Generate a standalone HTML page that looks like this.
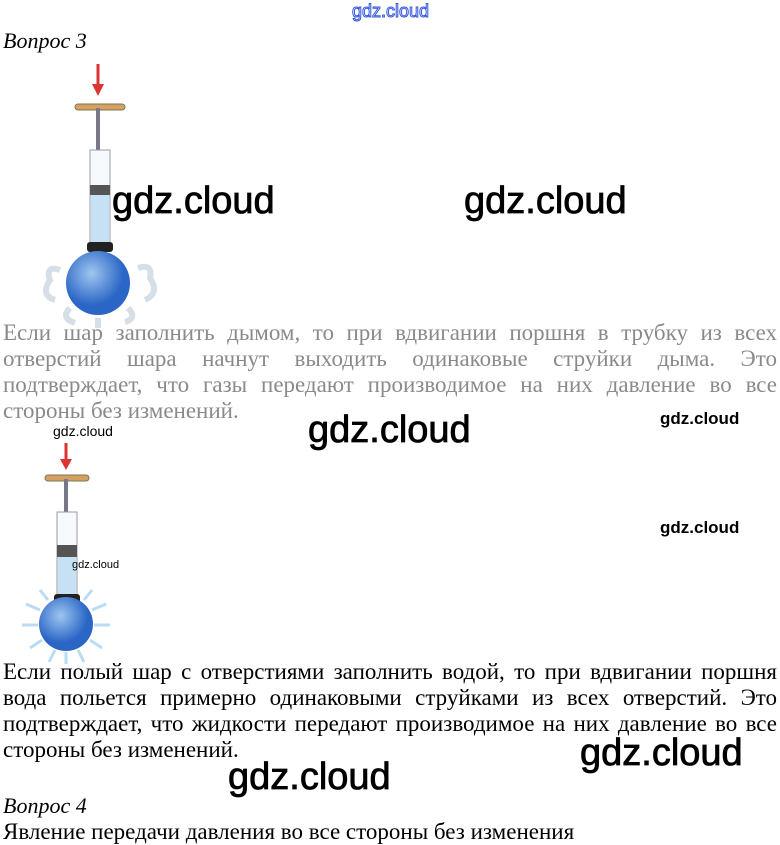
<!DOCTYPE html>
<html><head><meta charset="utf-8"><style>
body{margin:0;width:780px;height:845px;background:#fff;position:relative;overflow:hidden;font-family:"Liberation Serif",serif}
.a{position:absolute;white-space:nowrap}
.p{position:absolute;left:3px;width:774px;font-size:23px;line-height:26px;text-align:justify;text-align-last:justify}
.w{position:absolute;font-family:"Liberation Sans",sans-serif;color:#000;white-space:nowrap;-webkit-text-stroke:0.8px #000}
</style></head><body>
<div class="a" style="left:352px;top:1px;font-family:'Liberation Sans',sans-serif;font-size:18px;color:#fff;-webkit-text-stroke:1px #3355dd">gdz.cloud</div>
<div class="a" style="left:3px;top:28px;font-size:22px;font-style:italic">Вопрос 3</div>
<svg class="a" style="left:0;top:0" width="780" height="845">
<defs><radialGradient id="b" cx="40%" cy="35%"><stop offset="0" stop-color="#9ec6f0"/><stop offset="1" stop-color="#2b66c6"/></radialGradient></defs>
<g fill="none" stroke="#ccd6e0" stroke-width="6" opacity=".8">
<path d="M60 270 q-15 -5 -10 10 q-10 15 5 20 M138 268 q15 -5 12 10 q10 15 -5 22 M70 308 q-10 10 5 15 M128 308 q10 10 -3 14 M98 318 v10"/>
</g>
<path d="M98 64 v22" stroke="#d33" stroke-width="3"/><path d="M92 84 l6 12 l6 -12z" fill="#d33"/>
<rect x="75" y="104" width="50" height="6" rx="3" fill="#d7a060" stroke="#775" stroke-width="1"/>
<rect x="96" y="108" width="4" height="80" fill="#778"/>
<rect x="90" y="150" width="20" height="95" fill="#f6fafc" stroke="#99a" stroke-width="1"/>
<rect x="91" y="195" width="18" height="50" fill="#c6e0f4"/>
<rect x="90" y="185" width="20" height="10" fill="#555"/>
<rect x="87" y="242" width="26" height="10" rx="3" fill="#222"/>
<circle cx="98" cy="283" r="32" fill="url(#b)"/>
<g stroke="#a8d4f4" stroke-width="3" opacity=".8">
<path d="M40 610 l-14 -6 M38 625 h-16 M42 640 l-12 8 M55 650 l-6 12 M66 652 v12 M78 650 l6 12 M90 640 l12 8 M94 625 h16 M92 610 l14 -6 M48 600 l-8 -10 M84 600 l8 -10"/>
</g>
<path d="M66 443 v18" stroke="#d33" stroke-width="3"/><path d="M60 459 l6 11 l6 -11z" fill="#d33"/>
<rect x="45" y="475" width="44" height="6" rx="3" fill="#d7a060" stroke="#775" stroke-width="1"/>
<rect x="64" y="479" width="4" height="70" fill="#778"/>
<rect x="57" y="512" width="20" height="85" fill="#f6fafc" stroke="#99a" stroke-width="1"/>
<rect x="58" y="557" width="18" height="40" fill="#c6e0f4"/>
<rect x="57" y="545" width="20" height="12" fill="#555"/>
<rect x="54" y="594" width="26" height="10" rx="3" fill="#222"/>
<circle cx="66" cy="624" r="27" fill="url(#b)"/>
</svg>
<div class="w" style="left:112px;top:180px;font-size:38px">gdz.cloud</div>
<div class="w" style="left:464px;top:180px;font-size:38px">gdz.cloud</div>
<div class="p" style="top:320px;color:#8a8a8a">Если шар заполнить дымом, то при вдвигании поршня в трубку из всех</div>
<div class="p" style="top:346px;color:#8a8a8a">отверстий шара начнут выходить одинаковые струйки дыма. Это</div>
<div class="p" style="top:372px;color:#8a8a8a">подтверждает, что газы передают производимое на них давление во все</div>
<div class="a" style="left:3px;top:398px;font-size:23px;line-height:26px;color:#8a8a8a">стороны без изменений.</div>
<div class="w" style="left:308px;top:409px;font-size:38px">gdz.cloud</div>
<div class="w" style="left:660px;top:409px;font-size:17px;font-weight:bold;-webkit-text-stroke:0">gdz.cloud</div>
<div class="w" style="left:53px;top:423px;font-size:14px;-webkit-text-stroke:0">gdz.cloud</div>
<div class="w" style="left:660px;top:518px;font-size:17px;font-weight:bold;-webkit-text-stroke:0">gdz.cloud</div>
<div class="w" style="left:72px;top:559px;font-size:11px;-webkit-text-stroke:0">gdz.cloud</div>
<div class="p" style="top:659px">Если полый шар с отверстиями заполнить водой, то при вдвигании поршня</div>
<div class="p" style="top:685px">вода польется примерно одинаковыми струйками из всех отверстий. Это</div>
<div class="p" style="top:711px">подтверждает, что жидкости передают производимое на них давление во все</div>
<div class="a" style="left:3px;top:737px;font-size:23px;line-height:26px">стороны без изменений.</div>
<div class="w" style="left:580px;top:732px;font-size:38px">gdz.cloud</div>
<div class="w" style="left:228px;top:756px;font-size:38px">gdz.cloud</div>
<div class="a" style="left:3px;top:793px;font-size:22px;font-style:italic">Вопрос 4</div>
<div class="a" style="left:3px;top:819px;font-size:23px">Явление передачи давления во все стороны без изменения</div>
</body></html>
